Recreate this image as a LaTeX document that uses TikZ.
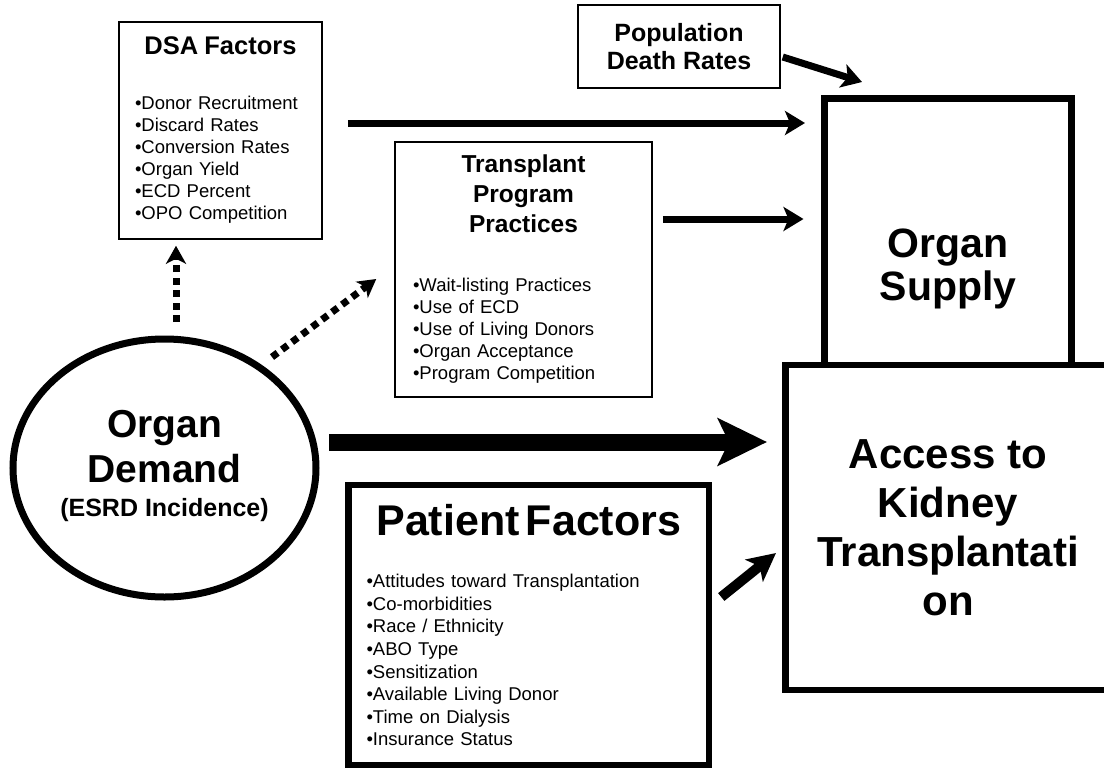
\documentclass[tikz,border=0pt]{standalone}
\usepackage{fontspec}
\setmainfont{Liberation Sans}
\usetikzlibrary{shapes.geometric, arrows.meta, positioning}
\setlength{\parindent}{0pt}

\begin{document}
\begin{tikzpicture}[
    x=1pt, y=-1pt,
    infobox/.style={
      draw, rectangle, line width=1.5pt,
      align=left, inner ysep=0pt,
      font=\fontsize{18.5}{22}\selectfont
    },
    heavybox/.style={
      draw, rectangle, line width=6.5pt, outer sep=0pt,
      align=center, inner sep=0pt,
      font=\bfseries\fontsize{42}{49}\selectfont
    },
    bigtext/.style={
      align=center, inner sep=0pt,
      font=\bfseries\fontsize{41}{43}\selectfont
    },
    flow/.style={-{Stealth[length=20pt 0 0, width=24pt 0, inset=5pt 0]}, line width=7pt},
    dotflow/.style={
      -{Stealth[length=18pt 0 0, width=20pt 0, inset=5pt 0]},
      line width=7pt, dash pattern=on 7pt off 5.5pt
    }
  ]

    \useasboundingbox (0,0) rectangle (1104,769);

    % --- DSA factors ---
    \node[infobox, minimum width=203pt, minimum height=217pt,
          text width=171pt, inner xsep=16pt] (dsa) at (220.5,130.5)
    {\makebox[\hsize][c]{\bfseries\fontsize{25.5}{29}\selectfont DSA Factors}\\[33pt]
     •Donor Recruitment\\
     •Discard Rates\\
     •Conversion Rates\\
     •Organ Yield\\
     •ECD Percent\\
     •OPO Competition};

    % --- Population death rates ---
    \node[infobox, align=center, inner sep=0pt,
          font=\bfseries\fontsize{25}{28}\selectfont,
          minimum width=202pt, minimum height=83pt] (pop) at (679,46.5)
    {Population\\Death Rates};

    % --- Transplant program practices ---
    \node[infobox, minimum width=257pt, minimum height=255pt,
          text width=221pt, inner xsep=18pt] (tpp) at (523.5,269.5)
    {\parbox[b]{\hsize}{\centering\bfseries\fontsize{24.5}{30}\selectfont
       Transplant\\Program\\Practices}\\[37pt]
     •Wait-listing Practices\\
     •Use of ECD\\
     •Use of Living Donors\\
     •Organ Acceptance\\
     •Program Competition};

    % --- Organ supply ---
    \node[heavybox, minimum width=247pt, minimum height=266.5pt] (supply) at (948,231.75) {};
    \node[bigtext, yshift=-37pt] (supplytext) at (supply) {Organ\\Supply};

    % --- Access to transplantation ---
    \node[heavybox, minimum width=325pt, minimum height=325pt, below=0pt of supply] (access)
    {Access to\\Kidney\\Transplantati\\on};

    % --- Organ demand ---
    \node[draw, ellipse, line width=7pt, outer sep=0pt, inner sep=0pt,
          minimum width=303pt, minimum height=258pt] (demand) at (164.5,468) {};
    \node[align=center, inner sep=0pt, font=\bfseries\fontsize{39}{45}\selectfont, yshift=1.6pt]
      (demandtext) at (demand)
    {Organ\\Demand\\[-11pt]{\fontsize{25}{30}\selectfont (ESRD Incidence)}};

    % --- Patient factors ---
    \node[infobox, line width=6.5pt, minimum width=360.5pt, minimum height=280pt,
          text width=324.5pt, inner xsep=18pt,
          font=\fontsize{18.5}{22.6}\selectfont] (patient) at (528.75,625)
    {\makebox[\hsize][c]{\bfseries\fontsize{43}{50}\selectfont Patient Factors}\\[30pt]
     •Attitudes toward Transplantation\\
     •Co-morbidities\\
     •Race / Ethnicity\\
     •ABO Type\\
     •Sensitization\\
     •Available Living Donor\\
     •Time on Dialysis\\
     •Insurance Status};

    % --- Arrows into organ supply ---
    \coordinate (dsaout) at ([xshift=25pt,yshift=7.5pt]dsa.east);
    \coordinate (tppout) at ([xshift=10pt,yshift=50.5pt]tpp.east);
    \draw[flow, shorten >=19.5pt] (dsaout) -- (dsaout -| supply.west);
    \draw[flow, shorten >=21pt] (tppout) -- (tppout -| supply.west);
    \draw[flow] ([xshift=2pt,yshift=-10.5pt]pop.east) -- ([xshift=-86pt,yshift=16.5pt]supply.north);

    % --- Demand drives the factors (dotted) ---
    \draw[dotflow] ([xshift=11.5pt,yshift=17pt]demand.north) -- ([xshift=-44.5pt,yshift=-6pt]dsa.south);
    \draw[dotflow] ([xshift=107.5pt,yshift=-18pt]demand.north) -- ([xshift=-18pt,yshift=-9.5pt]tpp.west);

    % --- Arrows into access ---
    \coordinate (demout) at ([xshift=13pt,yshift=26pt]demand.east);
    \draw[-{Stealth[length=49pt 0 0, width=47pt 0, inset=11pt 0]}, line width=17pt, shorten >=18.5pt]
      (demout) -- (demout -| access.west);
    \draw[-{Stealth[length=28pt 0 0, width=28pt 0, inset=7pt 0]}, line width=10pt]
      ([xshift=9pt,yshift=28pt]patient.east) -- ([xshift=-9.5pt,yshift=-25.5pt]access.west);

  \end{tikzpicture}
\end{document}
